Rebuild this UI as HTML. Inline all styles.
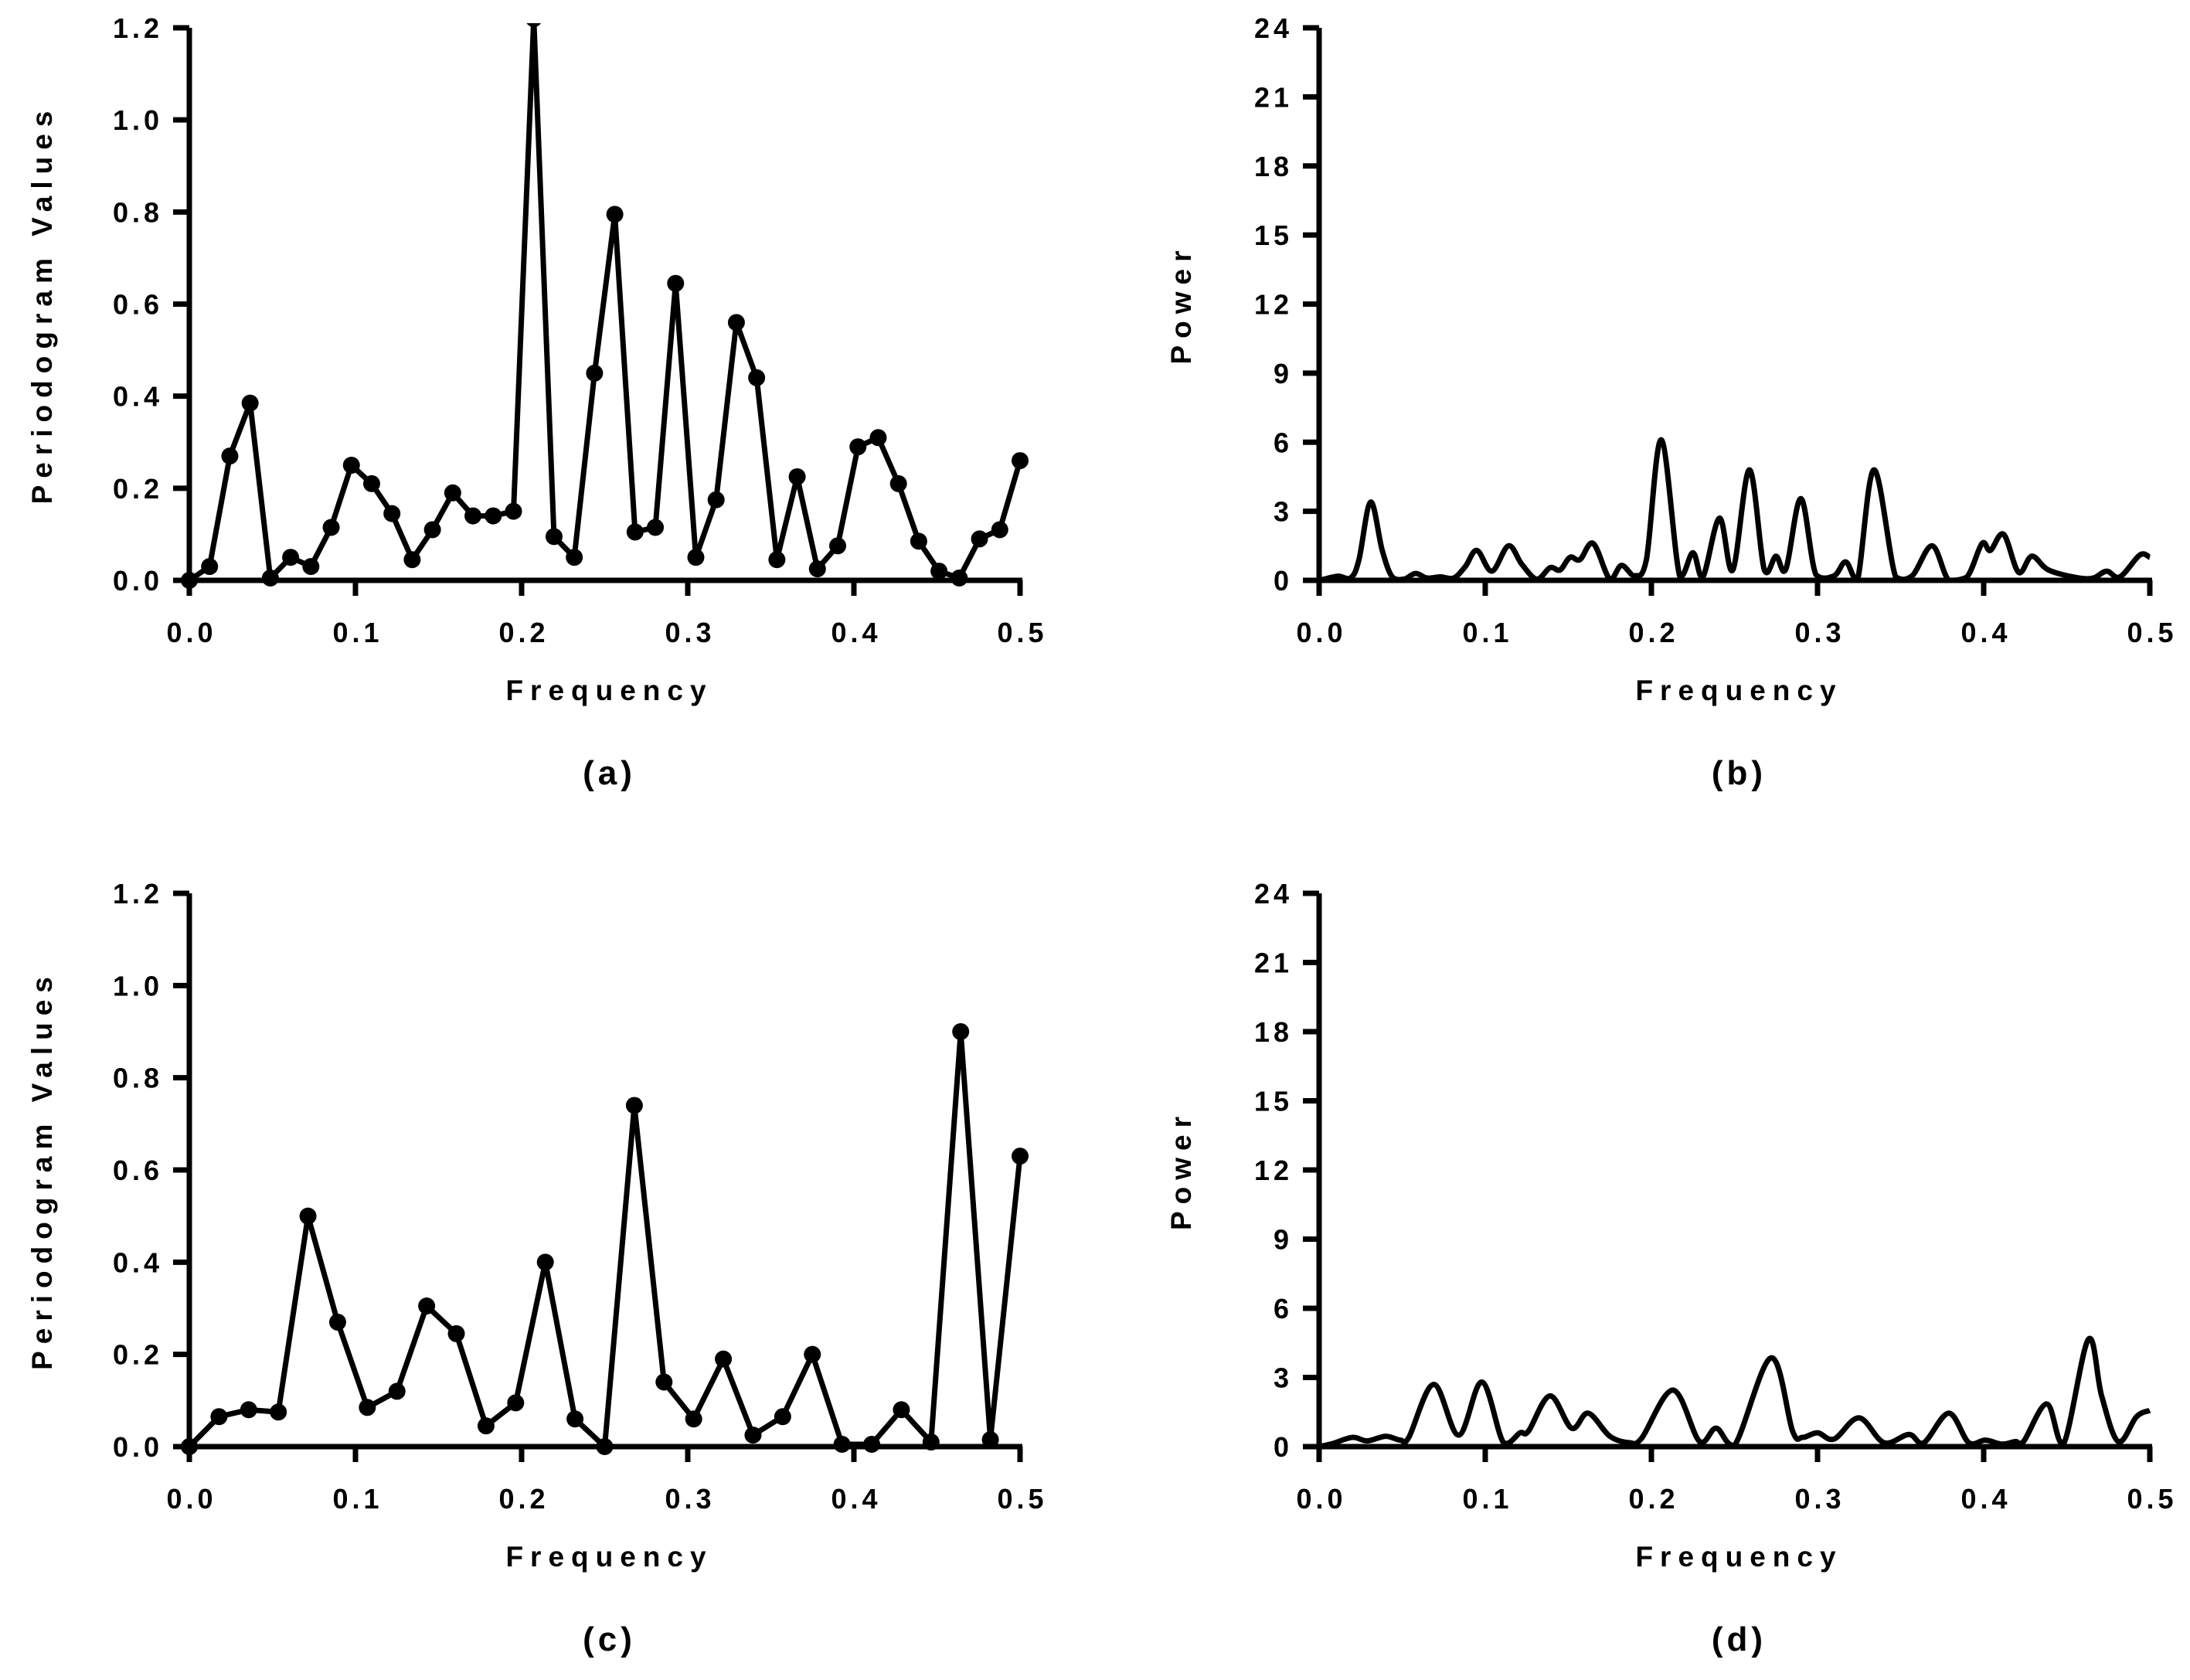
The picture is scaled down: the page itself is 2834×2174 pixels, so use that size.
<!DOCTYPE html>
<html><head><meta charset="utf-8"><style>
html,body{margin:0;padding:0;background:#fff;}
svg{display:block;}
text{font-family:"Liberation Sans",Arial,sans-serif;font-weight:bold;fill:#000;}
</style></head><body>
<svg id="fig" width="2834" height="2174" viewBox="0 0 2834 2174" xmlns="http://www.w3.org/2000/svg"></svg>
<script>
// Panel (a): periodogram values, 42 points at k*0.5/41
const aValues=[0,0.03,0.27,0.385,0.005,0.05,0.03,0.115,0.25,0.21,0.145,0.045,0.11,0.19,0.14,0.14,0.15,1.22,0.095,0.05,0.45,0.795,0.105,0.115,0.645,0.05,0.175,0.56,0.44,0.045,0.225,0.025,0.075,0.29,0.31,0.21,0.085,0.02,0.005,0.09,0.11,0.26];
// Panel (c): periodogram values, 29 points at k*0.5/28
const cValues=[0,0.065,0.08,0.075,0.5,0.27,0.085,0.12,0.305,0.245,0.045,0.095,0.40,0.06,0,0.74,0.14,0.06,0.19,0.025,0.065,0.20,0.005,0.005,0.08,0.01,0.90,0.015,0.63];
// Panel (b): power spectrum
const bFreq=[0,0.003,0.0115,0.019,0.024,0.031,0.038,0.044,0.051,0.058,0.065,0.073,0.081,0.088,0.095,0.104,0.114,0.122,0.131,0.139,0.145,0.151,0.157,0.165,0.175,0.182,0.19,0.197,0.206,0.217,0.225,0.231,0.241,0.249,0.259,0.268,0.275,0.281,0.29,0.299,0.31,0.317,0.324,0.334,0.347,0.357,0.369,0.379,0.39,0.399,0.404,0.412,0.421,0.429,0.439,0.456,0.466,0.474,0.482,0.494,0.5];
const bPower=[0,0.05,0.18,0.1,0.9,3.4,1.3,0.15,0.05,0.3,0.1,0.15,0.1,0.6,1.3,0.4,1.5,0.7,0.05,0.55,0.45,1.0,0.9,1.6,0.05,0.65,0.2,0.9,6.1,0.2,1.2,0.15,2.7,0.45,4.8,0.45,1.05,0.5,3.55,0.25,0.2,0.8,0,4.8,0.15,0.2,1.5,0,0.15,1.6,1.3,2.0,0.35,1.05,0.45,0.12,0.1,0.4,0.15,1.1,1.0];
// Panel (d): power spectrum
const dFreq=[0,0.008,0.020,0.029,0.040,0.049,0.054,0.069,0.084,0.098,0.111,0.121,0.126,0.139,0.152,0.162,0.175,0.187,0.194,0.213,0.229,0.239,0.250,0.272,0.285,0.291,0.3,0.31,0.325,0.34,0.355,0.364,0.379,0.391,0.401,0.411,0.419,0.424,0.438,0.448,0.463,0.471,0.481,0.492,0.5];
const dPower=[0,0.13,0.4,0.25,0.45,0.28,0.4,2.7,0.5,2.8,0.17,0.6,0.67,2.2,0.8,1.45,0.45,0.17,0.35,2.45,0.22,0.8,0.05,3.85,0.67,0.4,0.6,0.33,1.25,0.17,0.53,0.17,1.45,0.17,0.28,0.11,0.22,0.22,1.85,0.11,4.65,2.2,0.22,1.3,1.57];
const xTicks=["0.0","0.1","0.2","0.3","0.4","0.5"];
const perTicks=["0.0","0.2","0.4","0.6","0.8","1.0","1.2"];
const powTicks=["0","3","6","9","12","15","18","21","24"];

const NS="http://www.w3.org/2000/svg";
const svg=document.getElementById('fig');
function mk(tag,attrs,parent){const e=document.createElementNS(NS,tag);for(const k in attrs)e.setAttribute(k,attrs[k]);(parent||svg).appendChild(e);return e;}

function panel(id,x0,x1,y0,y1,ymax,yTicks,yTitle,yTitleX,letter){
  const g=mk('g',{});
  
  
  const sx=f=>x0+(f/0.5)*(x1-x0);
  const sy=v=>y0-(v/ymax)*(y0-y1);
  const ya=mk('line',{x1:x0,y1:y0+3,x2:x0,y2:y1,stroke:'#000','stroke-width':7},g);
  
  
  const xa=mk('line',{x1:x0-21,y1:y0,x2:x1+3,y2:y0,stroke:'#000','stroke-width':7},g);
  
  
  yTicks.forEach((t,i)=>{
    const v=i*ymax/(yTicks.length-1);const y=sy(v);
    mk('line',{x1:x0-21,y1:y,x2:x0,y2:y,stroke:'#000','stroke-width':7},g);
    const tx=mk('text',{x:x0-34,y:y+13,'font-size':36,'text-anchor':'end','letter-spacing':5},g);
    tx.textContent=t;
    
    
  });
  xTicks.forEach((t,i)=>{
    const x=sx(i*0.1);
    mk('line',{x1:x,y1:y0,x2:x,y2:y0+20,stroke:'#000','stroke-width':7},g);
    const tx=mk('text',{x:x+3,y:y0+80,'font-size':36,'text-anchor':'middle','letter-spacing':5},g);
    tx.textContent=t;
    
    
  });
  const xt=mk('text',{x:(x0+x1)/2+6,y:y0+155,'font-size':37,'text-anchor':'middle','letter-spacing':9},g);
  xt.textContent='Frequency';
  
  
  const ycy=(y0+y1)/2;
  const yt=mk('text',{x:yTitleX,y:ycy,'font-size':37,'text-anchor':'middle','letter-spacing':9,transform:`rotate(-90 ${yTitleX} ${ycy})`},g);
  yt.textContent=yTitle;
  
  
  const lt=mk('text',{x:(x0+x1)/2+6,y:y0+264,'font-size':44,'text-anchor':'middle','letter-spacing':5},g);
  lt.textContent='('+letter+')';
  
  
  return {g,sx,sy};
}

function periodogram(p,vals,clipTop){
  const n=vals.length-1;
  const pts=vals.map((v,i)=>[p.sx(i*0.5/n),p.sy(v)]);
  const cp=mk('clipPath',{id:'clip'+clipTop},p.g);
  mk('rect',{x:0,y:clipTop,width:2834,height:2174},cp);
  const pl=mk('polyline',{points:pts.map(q=>q.join(',')).join(' '),fill:'none',stroke:'#000','stroke-width':7,'stroke-linejoin':'miter','clip-path':`url(#clip${clipTop})`},p.g);
  
  
  pts.forEach(q=>{
    const c=mk('circle',{cx:q[0],cy:q[1],r:11,fill:'#000','clip-path':`url(#clip${clipTop})`},p.g);
    
    
  });
}

function smooth(p,fs,ps){
  const pts=fs.map((f,i)=>[p.sx(f),p.sy(ps[i])]);
  let d=`M${pts[0][0]},${pts[0][1]}`;
  for(let i=0;i<pts.length-1;i++){
    const p0=pts[Math.max(0,i-1)],p1=pts[i],p2=pts[i+1],p3=pts[Math.min(pts.length-1,i+2)];
    const t=0.17;
    let c1y=p1[1]+(p2[1]-p0[1])*t, c2y=p2[1]-(p3[1]-p1[1])*t;
    const base=p.sy(0);
    c1y=Math.min(c1y,base);c2y=Math.min(c2y,base);
    d+=` C${p1[0]+(p2[0]-p0[0])*t},${c1y} ${p2[0]-(p3[0]-p1[0])*t},${c2y} ${p2[0]},${p2[1]}`;
  }
  const path=mk('path',{d,fill:'none',stroke:'#000','stroke-width':7,'stroke-linejoin':'round'},p.g);
  
  
}

const pa=panel('a',245,1320,751,36,1.2,perTicks,'Periodogram Values',67,'a');
periodogram(pa,aValues,30);
const pb=panel('b',1707,2782,751,36,24,powTicks,'Power',1541,'b');
smooth(pb,bFreq,bPower);
const pc=panel('c',245,1320,1872,1156,1.2,perTicks,'Periodogram Values',67,'c');
periodogram(pc,cValues,1120);
const pd=panel('d',1707,2782,1872,1156,24,powTicks,'Power',1541,'d');
smooth(pd,dFreq,dPower);
</script>
</body></html>
